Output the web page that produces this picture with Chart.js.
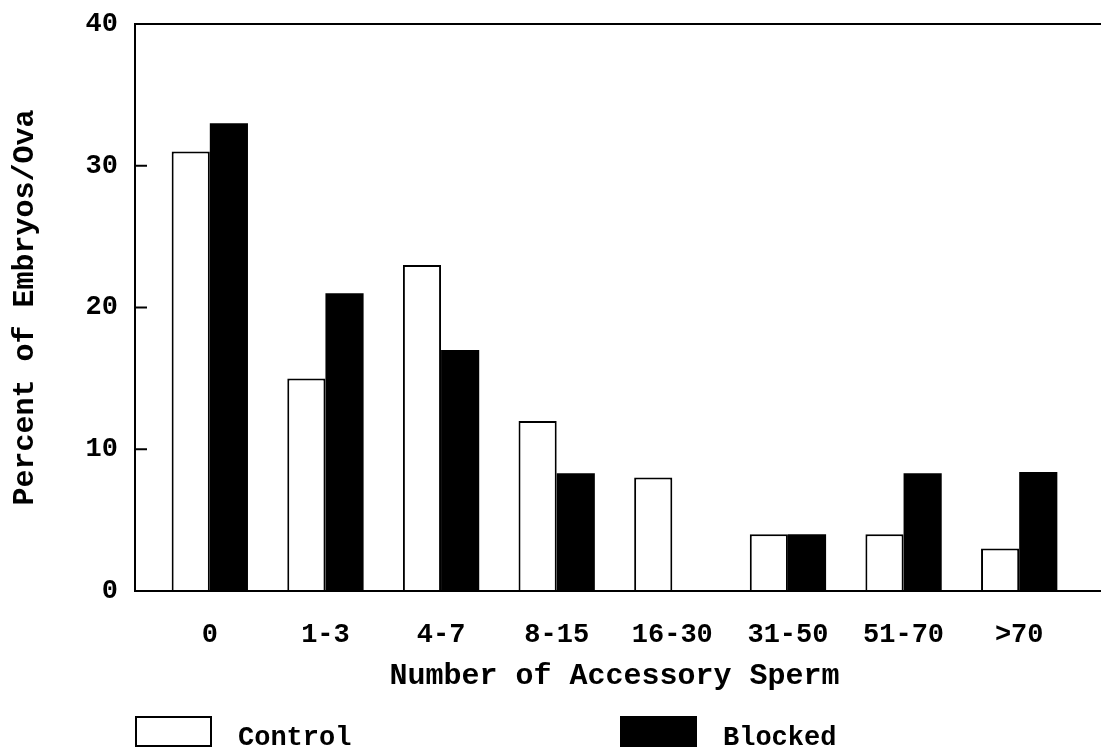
<!DOCTYPE html>
<html>
<head>
<meta charset="utf-8">
<script src="https://cdn.jsdelivr.net/npm/chart.js@4"></script>
<style>
html, body { margin: 0; padding: 0; background: #fff; }
</style>
</head>
<body>
<canvas id="chart" width="1101" height="752"></canvas>
<script>
const categories = ['0', '1-3', '4-7', '8-15', '16-30', '31-50', '51-70', '>70'];
const controlValues = [31, 15, 23, 12, 8, 4, 4, 3];
const blockedValues = [33, 21, 17, 8.3, 0, 4, 8.3, 8.4];
const yTicks = [0, 10, 20, 30, 40];
const xTitle = 'Number of Accessory Sperm';
const yTitle = 'Percent of Embryos/Ova';

const FONT = "'Liberation Mono', 'Courier New', monospace";

// axis frame: left line, top line, bottom line and inward ticks
const framePlugin = {
    id: 'frame',
    afterDatasetsDraw(chart) {
        const ctx = chart.ctx;
        const area = chart.chartArea;
        const y = chart.scales.y;
        const left = area.left - 17;
        const right = chart.width;
        ctx.save();
        ctx.strokeStyle = '#000';
        ctx.lineWidth = 2;
        ctx.beginPath();
        ctx.moveTo(right, area.top);
        ctx.lineTo(left, area.top);
        ctx.lineTo(left, area.bottom);
        ctx.lineTo(right, area.bottom);
        ctx.stroke();
        yTicks.forEach(v => {
            const py = y.getPixelForValue(v);
            ctx.beginPath();
            ctx.moveTo(left, py);
            ctx.lineTo(left + 12, py);
            ctx.stroke();
        });
        ctx.restore();
    }
};

// legend below the x title
const legendPlugin = {
    id: 'boxLegend',
    afterDraw(chart) {
        const ctx = chart.ctx;
        const area = chart.chartArea;
        const starts = [area.left - 17, area.left + 468];
        ctx.save();
        ctx.font = 'bold 27px ' + FONT;
        ctx.textBaseline = 'alphabetic';
        chart.data.datasets.forEach((ds, i) => {
            const x = starts[i];
            const top = 716;
            ctx.fillStyle = ds.backgroundColor;
            ctx.fillRect(x, top, 77, 31);
            ctx.strokeStyle = '#000';
            ctx.lineWidth = 2;
            ctx.strokeRect(x + 1, top + 1, 75, 29);
            ctx.fillStyle = '#000';
            ctx.fillText(ds.label, x + 103, top + 29);
        });
        ctx.restore();
    }
};

const ctx = document.getElementById('chart').getContext('2d');
const myChart = new Chart(ctx, {
    type: 'bar',
    data: {
        labels: categories,
        datasets: [{
            label: 'Control',
            data: controlValues,
            backgroundColor: '#ffffff',
            borderColor: '#000000',
            borderWidth: 2,
            borderSkipped: 'bottom'
        }, {
            label: 'Blocked',
            data: blockedValues,
            backgroundColor: '#000000',
            borderColor: '#000000',
            borderWidth: 0
        }]
    },
    options: {
        responsive: false,
        animation: false,
        devicePixelRatio: 1,
        layout: { padding: { top: 24, right: 24, left: 0, bottom: 0 } },
        datasets: {
            bar: { categoryPercentage: 0.66, barPercentage: 1 }
        },
        plugins: {
            legend: { display: false },
            tooltip: { enabled: false }
        },
        scales: {
            x: {
                grid: { display: false, drawTicks: false },
                border: { display: false },
                ticks: {
                    color: '#000',
                    padding: 28,
                    maxRotation: 0,
                    font: { family: FONT, size: 27, weight: 'bold' }
                },
                title: {
                    display: true,
                    text: xTitle,
                    color: '#000',
                    font: { family: FONT, size: 30, weight: 'bold' },
                    padding: { top: 0, bottom: 58 }
                },
                afterFit: s => { s.height = 161; }
            },
            y: {
                min: 0,
                max: 40,
                afterBuildTicks: s => { s.ticks = yTicks.map(v => ({ value: v })); },
                grid: { display: false, drawTicks: false },
                border: { display: false },
                ticks: {
                    color: '#000',
                    padding: 34,
                    font: { family: FONT, size: 27, weight: 'bold' }
                },
                title: {
                    display: true,
                    text: yTitle,
                    color: '#000',
                    font: { family: FONT, size: 30, weight: 'bold' },
                    padding: { top: 7, bottom: 0 }
                },
                afterFit: s => {
                    s.width = 152;
                    s.paddingTop = 16;
                    s.paddingBottom = 16;
                }
            }
        }
    },
    plugins: [framePlugin, legendPlugin]
});
</script>
</body>
</html>
